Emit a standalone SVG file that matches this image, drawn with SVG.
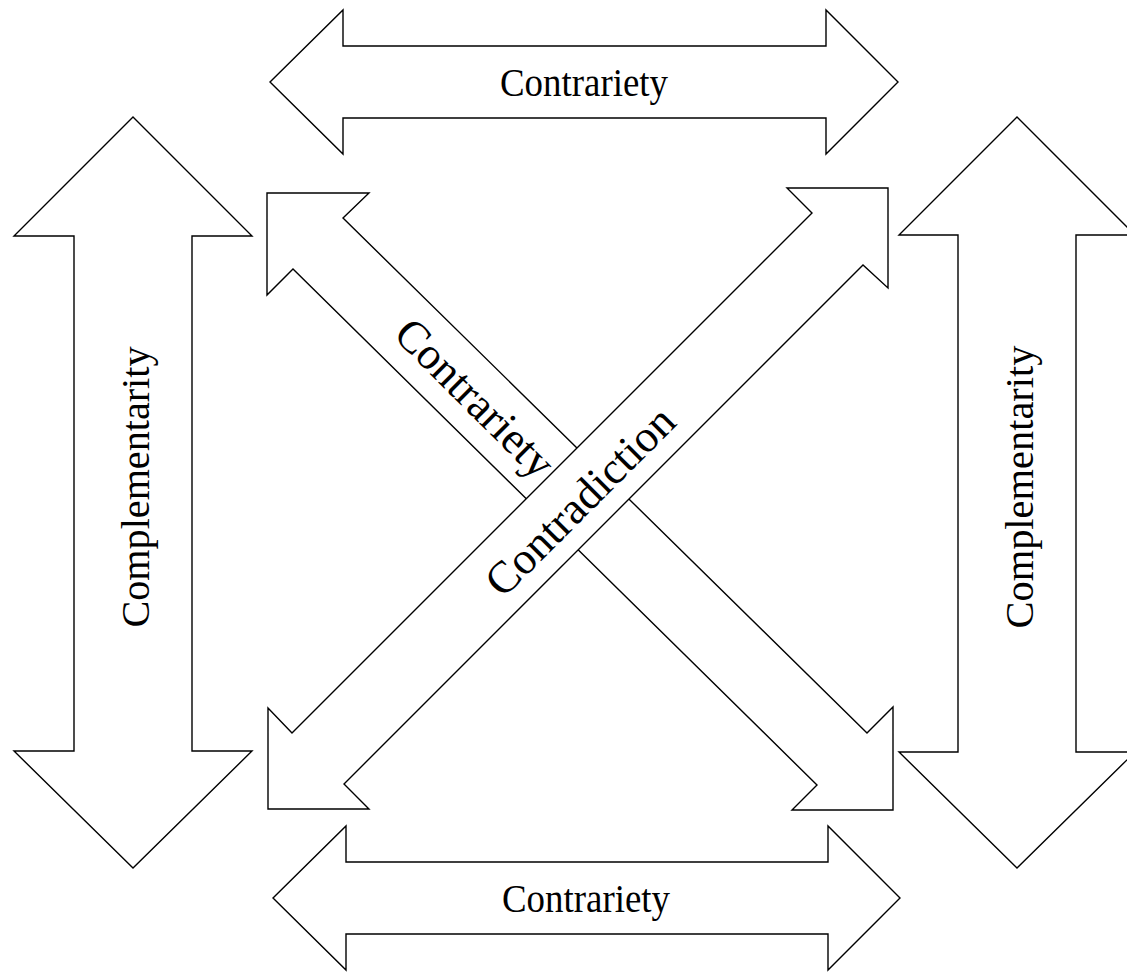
<svg xmlns="http://www.w3.org/2000/svg" width="1127" height="974" viewBox="0 0 1127 974">
  <style>
    .arrow { fill: #ffffff; stroke: #000000; stroke-width: 1.4; stroke-linejoin: miter; }
    .label { font-family: "Liberation Serif", "DejaVu Serif", serif; font-size: 41px; fill: #000000; text-anchor: middle; }
    .diag { font-size: 45px; }
  </style>
  <rect x="0" y="0" width="1127" height="974" fill="#ffffff"/>

  <g id="connectors">
    <!-- top contrariety (horizontal double arrow) -->
    <g id="contrariety-top">
      <polygon class="arrow" points="270,82 343,10 343,46 826,46 826,10 898,82 826,154 826,118 343,118 343,154"/>
      <text class="label" x="584" y="96" textLength="168" lengthAdjust="spacingAndGlyphs">Contrariety</text>
    </g>

    <!-- bottom contrariety (horizontal double arrow) -->
    <g id="contrariety-bottom">
      <polygon class="arrow" points="273,898 346,826 346,862 828,862 828,826 900,898 828,970 828,934 346,934 346,970"/>
      <text class="label" x="586" y="912" textLength="168" lengthAdjust="spacingAndGlyphs">Contrariety</text>
    </g>

    <!-- left complementarity (vertical double arrow) -->
    <g id="complementarity-left">
      <polygon class="arrow" points="133,117 252,236 192,236 192,751 252,751 133,868 14,751 74,751 74,236 14,236"/>
      <text class="label" x="487" y="0" transform="translate(149,974) rotate(-90)" textLength="281" lengthAdjust="spacingAndGlyphs">Complementarity</text>
    </g>

    <!-- right complementarity (vertical double arrow) -->
    <g id="complementarity-right">
      <polygon class="arrow" points="1017,117 1135,235 1076,235 1076,752 1135,752 1017,868 899,752 958,752 958,235 899,235"/>
      <text class="label" x="487" y="0" transform="translate(1033,974) rotate(-90)" textLength="283" lengthAdjust="spacingAndGlyphs">Complementarity</text>
    </g>

    <!-- diagonal contrariety (NW to SE), drawn beneath the contradiction arrow -->
    <g id="contrariety-diagonal">
      <polygon class="arrow" points="267,193 369,193 343,218 867,733 893,707 893,810 792,810 817,785 293,269 267,295"/>
      <text class="label diag" x="0" y="15" transform="translate(475,398) rotate(45)">Contrariety</text>
    </g>

    <!-- diagonal contradiction (SW to NE) -->
    <g id="contradiction-diagonal">
      <polygon class="arrow" points="888,188 888,288 863,265 344,784 369,809 268,809 268,708 292,733 812,213 787,188"/>
      <text class="label diag" x="0" y="15" transform="translate(580,501) rotate(-45)">Contradiction</text>
    </g>
  </g>
</svg>
